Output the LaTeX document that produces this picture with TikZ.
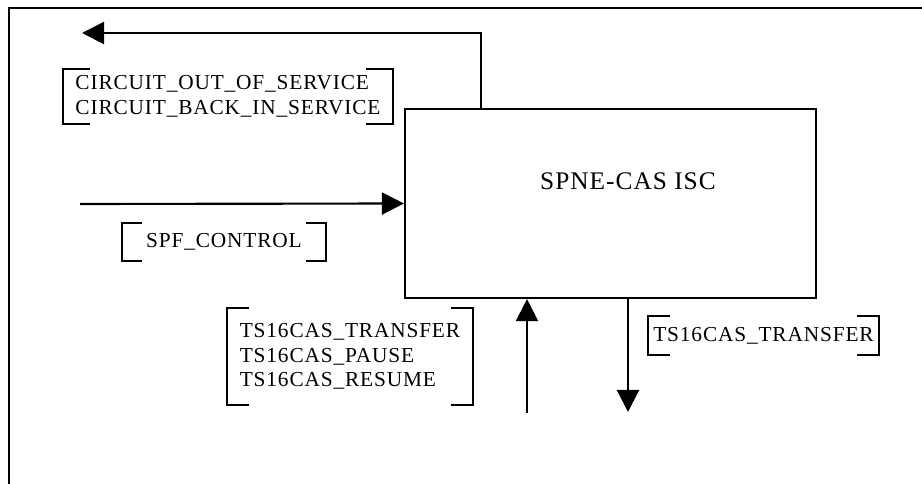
\documentclass[tikz,border=0pt]{standalone}
\usepackage{fontspec}
\setmainfont{Liberation Serif}[LetterSpace=4]
\usetikzlibrary{arrows.meta}
\tikzset{
    flow/.style={line width=1.6pt,-{Triangle[length=16.5pt,width=16.5pt]}},
    msg/.style={align=left,inner sep=0pt,font=\fontsize{16pt}{18.5pt}\selectfont},
    bracket/.style={line width=1.6pt}
}
\newcommand{\msgbrackets}[2][22]{%
    \draw[bracket] ([xshift=#1*0.75pt]#2.north west) -- (#2.north west)
        -- (#2.south west) -- ([xshift=#1*0.75pt]#2.south west);
    \draw[bracket] ([xshift=-#1*0.75pt]#2.north east) -- (#2.north east)
        -- (#2.south east) -- ([xshift=-#1*0.75pt]#2.south east);
}

\begin{document}
\begin{tikzpicture}[x=0.75pt,y=-0.75pt]
            \useasboundingbox (0,0) rectangle (922,484);
            \draw[line width=1.6pt] (9,484) -- (9,8) -- (922,8);
            \node[
                draw,
                line width=1.6pt,
                inner sep=0pt,
                minimum width=308.25pt,
                minimum height=141.75pt
            ] (isc) at (610.5,203.5) {};
            \node[font=\fontsize{19pt}{22pt}\selectfont] (isctitle) at (628,181) {SPNE-CAS ISC};
            \node[msg,minimum width=247.5pt,minimum height=41.25pt] (circ) at (228,96.5)
                {CIRCUIT\_OUT\_OF\_SERVICE\\CIRCUIT\_BACK\_IN\_SERVICE};
            \node[msg,minimum width=153pt,minimum height=28.5pt] (spf) at (224,242)
                {SPF\_CONTROL};
            \node[msg,minimum width=184.5pt,minimum height=72.75pt] (tsin) at (350,356.5)
                {TS16CAS\_TRANSFER\\TS16CAS\_PAUSE\\TS16CAS\_RESUME};
            \node[msg,minimum width=173.25pt,minimum height=29.25pt] (tsout) at (763.5,335.5)
                {TS16CAS\_TRANSFER};
            \msgbrackets[27]{circ}
            \msgbrackets[20]{spf}
            \msgbrackets{tsin}
            \msgbrackets{tsout}
            \coordinate (circstart) at ([xshift=57.75pt]isc.north west);
            \coordinate (circend) at (82,33);
            \draw[flow] (circstart) |- (circend);
            \coordinate (spfstart) at (80,204);
            \draw[flow] (spfstart) -- (isc.west);
            \coordinate (tsinstart) at (527,413);
            \draw[flow] (tsinstart) -- (tsinstart |- isc.south);
            \coordinate (tsoutend) at (628,412);
            \draw[flow] (tsoutend |- isc.south) -- (tsoutend);
        \end{tikzpicture}
\end{document}
